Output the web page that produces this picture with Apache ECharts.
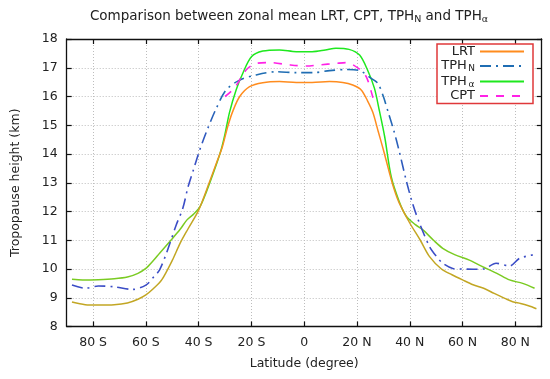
<!DOCTYPE html>
<html><head><meta charset="utf-8">
<script src="https://cdn.jsdelivr.net/npm/echarts@6/dist/echarts.min.js"></script>
<style>html,body{margin:0;padding:0;background:#fff}#c{width:550px;height:379px}</style>
</head><body><div id="c"></div>
<script>
// Tick labels
const xTickValues = [-80, -60, -40, -20, 0, 20, 40, 60, 80];
const xTickLabels = ['80 S', '60 S', '40 S', '20 S', '0', '20 N', '40 N', '60 N', '80 N'];
const yTickLabels = ['8', '9', '10', '11', '12', '13', '14', '15', '16', '17', '18'];

// Series: [latitude, height km]
const lrt = [[-88,8.85],[-83,8.76],[-78,8.75],[-72,8.76],[-67,8.82],[-63,8.95],[-60,9.1],[-57,9.33],[-54,9.62],[-50,10.3],[-47,10.9],[-44,11.4],[-40,12.05],[-36,13.0],[-33,13.75],[-31,14.25],[-29,14.95],[-27,15.5],[-24.5,15.99],[-20.7,16.34],[-15.7,16.48],[-9.4,16.52],[-3,16.49],[3,16.49],[9.6,16.52],[14.6,16.49],[18.4,16.4],[21.6,16.23],[24,15.85],[26,15.45],[28,14.8],[30,14.15],[32,13.45],[34,12.8],[36,12.3],[40,11.6],[44,11.0],[47.5,10.43],[52,10.0],[56,9.8],[60,9.62],[64,9.45],[68,9.33],[72,9.15],[76,8.98],[79,8.86],[82,8.8],[85,8.72],[88,8.62]];
const tphN = [[-88,9.44],[-83,9.33],[-78,9.41],[-72,9.38],[-65,9.29],[-60,9.44],[-57,9.73],[-54.8,9.97],[-52,10.6],[-48.5,11.53],[-46,12.11],[-44,12.86],[-42,13.44],[-39.6,14.14],[-36.5,14.9],[-33.3,15.59],[-29.6,16.23],[-24.5,16.57],[-18.2,16.75],[-10.6,16.86],[-3,16.83],[3.3,16.83],[9.6,16.9],[15.9,16.94],[21,16.9],[25.4,16.63],[27.9,16.46],[30,16.0],[32,15.4],[34,14.8],[36,14.1],[38.6,13.1],[41,12.3],[43.7,11.59],[47.5,10.78],[50,10.45],[52.5,10.2],[56.3,10.02],[60,10.0],[64,9.99],[68,10.0],[72.7,10.2],[77.8,10.1],[81.6,10.37],[86.6,10.49]];
const tphA = [[-88,9.64],[-84,9.62],[-78,9.63],[-72,9.66],[-67,9.72],[-63,9.85],[-60,10.02],[-57,10.31],[-54.8,10.55],[-51,10.95],[-47,11.38],[-44.5,11.7],[-42,11.9],[-39.6,12.15],[-37,12.7],[-34,13.45],[-31.5,14.14],[-30,14.7],[-28.3,15.45],[-25.8,16.23],[-23.3,16.8],[-20,17.38],[-15.7,17.58],[-9.4,17.62],[-3,17.56],[3,17.56],[8,17.62],[12,17.68],[17,17.64],[21,17.44],[24,16.92],[26.6,16.29],[28.5,15.5],[30.5,14.6],[33,13.2],[36,12.35],[38.6,11.85],[42,11.55],[45,11.36],[49,11.0],[52.5,10.72],[57,10.5],[62.6,10.31],[66,10.15],[69,10.02],[73,9.85],[77.8,9.62],[82.8,9.5],[87.3,9.33]];
const cpt = [[-30,16.0],[-26.4,16.3],[-22,16.92],[-18.2,17.15],[-13.1,17.18],[-5.6,17.1],[0.8,17.06],[5.8,17.1],[12,17.15],[15.9,17.18],[21,16.95],[23.5,16.69],[25.4,16.17],[26.5,15.8]];

function grad(data, outC, inC) {
  const a = data[0][0], b = data[data.length - 1][0];
  const f = v => Math.min(1, Math.max(0, (v - a) / (b - a)));
  return new echarts.graphic.LinearGradient(0, 0, 1, 0, [
    {offset: 0, color: outC}, {offset: f(-42), color: outC}, {offset: f(-30), color: inC},
    {offset: f(30), color: inC}, {offset: f(42), color: outC}, {offset: 1, color: outC}
  ]);
}

const chart = echarts.init(document.getElementById('c'), null, {renderer: 'canvas'});
const FONT = 'DejaVu Sans';
const labMap = {};
xTickValues.forEach((v, i) => labMap[v] = xTickLabels[i]);
const gridLine = {show: true, lineStyle: {color: '#bdbdbd', type: [1, 2], width: 1}};
const tickStyle = {color: '#111', width: 1.2};
const lineAxis = {onZero: false, lineStyle: {color: '#111', width: 1.3}};
chart.setOption({
  animation: false,
  backgroundColor: '#fff',
  title: {
    text: 'Comparison between zonal mean LRT, CPT, TPH{sub|N} and TPH{sub|α}',
    left: 284, top: 3, textAlign: 'center',
    textStyle: {fontFamily: FONT, fontSize: 13.5, fontWeight: 'normal', color: '#222', rich: {
      sub: {fontSize: 9.5, fontFamily: FONT, color: '#222', padding: [7, 0, 0, 0]}
    }}
  },
  legend: {
    orient: 'vertical', left: 437, top: 44, align: 'right',
    itemWidth: 44, itemHeight: 10, itemGap: 0.5,
    padding: [1, 8, 1, 3],
    borderColor: '#e0383a', borderWidth: 1.5, backgroundColor: '#fff',
    itemStyle: {opacity: 0},
    textStyle: {fontFamily: FONT, fontSize: 13, color: '#222', rich: {
      t: {width: 35, align: 'right', fontFamily: FONT, fontSize: 13, color: '#222', lineHeight: 14.5},
      m: {width: 28, align: 'right', fontFamily: FONT, fontSize: 13, color: '#222', lineHeight: 14.5},
      sub: {width: 7, align: 'left', fontSize: 9, fontFamily: FONT, color: '#222', padding: [6, 0, 0, 0], lineHeight: 14.5}
    }},
    formatter: n => {
      const m = {LRT: '{t|LRT}', TPHN: '{m|TPH}{sub|N}', TPHa: '{m|TPH}{sub|α}', CPT: '{t|CPT}'};
      return m[n];
    },
    data: [
      {name: 'LRT', lineStyle: {color: '#ff8c1e'}},
      {name: 'TPHN', lineStyle: {color: '#1f6db3'}},
      {name: 'TPHa', lineStyle: {color: '#1ee81e'}},
      {name: 'CPT', lineStyle: {color: '#ff22e6'}}
    ]
  },
  grid: {left: 66.7, right: 8.3, top: 39, bottom: 52.5, containLabel: false},
  xAxis: [{
    type: 'value', min: -90, max: 90, interval: 10,
    name: 'Latitude (degree)', nameLocation: 'middle', nameGap: 31,
    nameTextStyle: {fontFamily: FONT, fontSize: 12.5, color: '#222'},
    axisLine: lineAxis,
    axisTick: {inside: true, length: 5, lineStyle: tickStyle, customValues: xTickValues},
    axisLabel: {fontFamily: FONT, fontSize: 12.5, color: '#222', margin: 10,
      customValues: xTickValues,
      formatter: v => labMap[v] !== undefined ? labMap[v] : ''},
    splitLine: Object.assign({customValues: xTickValues}, gridLine)
  }, {
    type: 'value', min: -90, max: 90, interval: 10, position: 'top',
    axisLine: lineAxis,
    axisTick: {inside: true, length: 5, lineStyle: tickStyle, customValues: xTickValues},
    axisLabel: {show: false}, splitLine: {show: false}
  }],
  yAxis: [{
    type: 'value', min: 8, max: 18, interval: 1,
    name: 'Tropopause height (km)', nameLocation: 'middle', nameGap: 44,
    nameTextStyle: {fontFamily: FONT, fontSize: 12.5, color: '#222'},
    axisLine: Object.assign({show: true}, lineAxis),
    axisTick: {show: true, inside: true, length: 5, lineStyle: tickStyle},
    axisLabel: {fontFamily: FONT, fontSize: 12.5, color: '#222', margin: 9,
      formatter: v => yTickLabels[Math.round(v) - 8]},
    splitLine: gridLine
  }, {
    type: 'value', min: 8, max: 18, interval: 1, position: 'right',
    axisLine: Object.assign({show: true}, lineAxis),
    axisTick: {show: true, inside: true, length: 5, lineStyle: tickStyle},
    axisLabel: {show: false}, splitLine: {show: false}
  }],
  series: [
    {name: 'LRT', type: 'line', data: lrt, smooth: 0.3, symbol: 'none', color: '#ff8c1e',
      lineStyle: {width: 1.5, color: grad(lrt, '#c2a623', '#ff8c1e')}, z: 3},
    {name: 'TPHN', type: 'line', data: tphN, smooth: 0.3, symbol: 'none', color: '#1f6db3',
      lineStyle: {width: 1.6, type: [11, 5, 2, 5], color: grad(tphN, '#3b4dc6', '#1f6db3')}, z: 4},
    {name: 'TPHa', type: 'line', data: tphA, smooth: 0.3, symbol: 'none', color: '#1ee81e',
      lineStyle: {width: 1.5, color: grad(tphA, '#7acb22', '#1ee81e')}, z: 2},
    {name: 'CPT', type: 'line', data: cpt, smooth: 0.3, symbol: 'none', color: '#ff22e6',
      lineStyle: {width: 1.6, type: [8, 8]}, z: 5}
  ]
});
</script></body></html>
